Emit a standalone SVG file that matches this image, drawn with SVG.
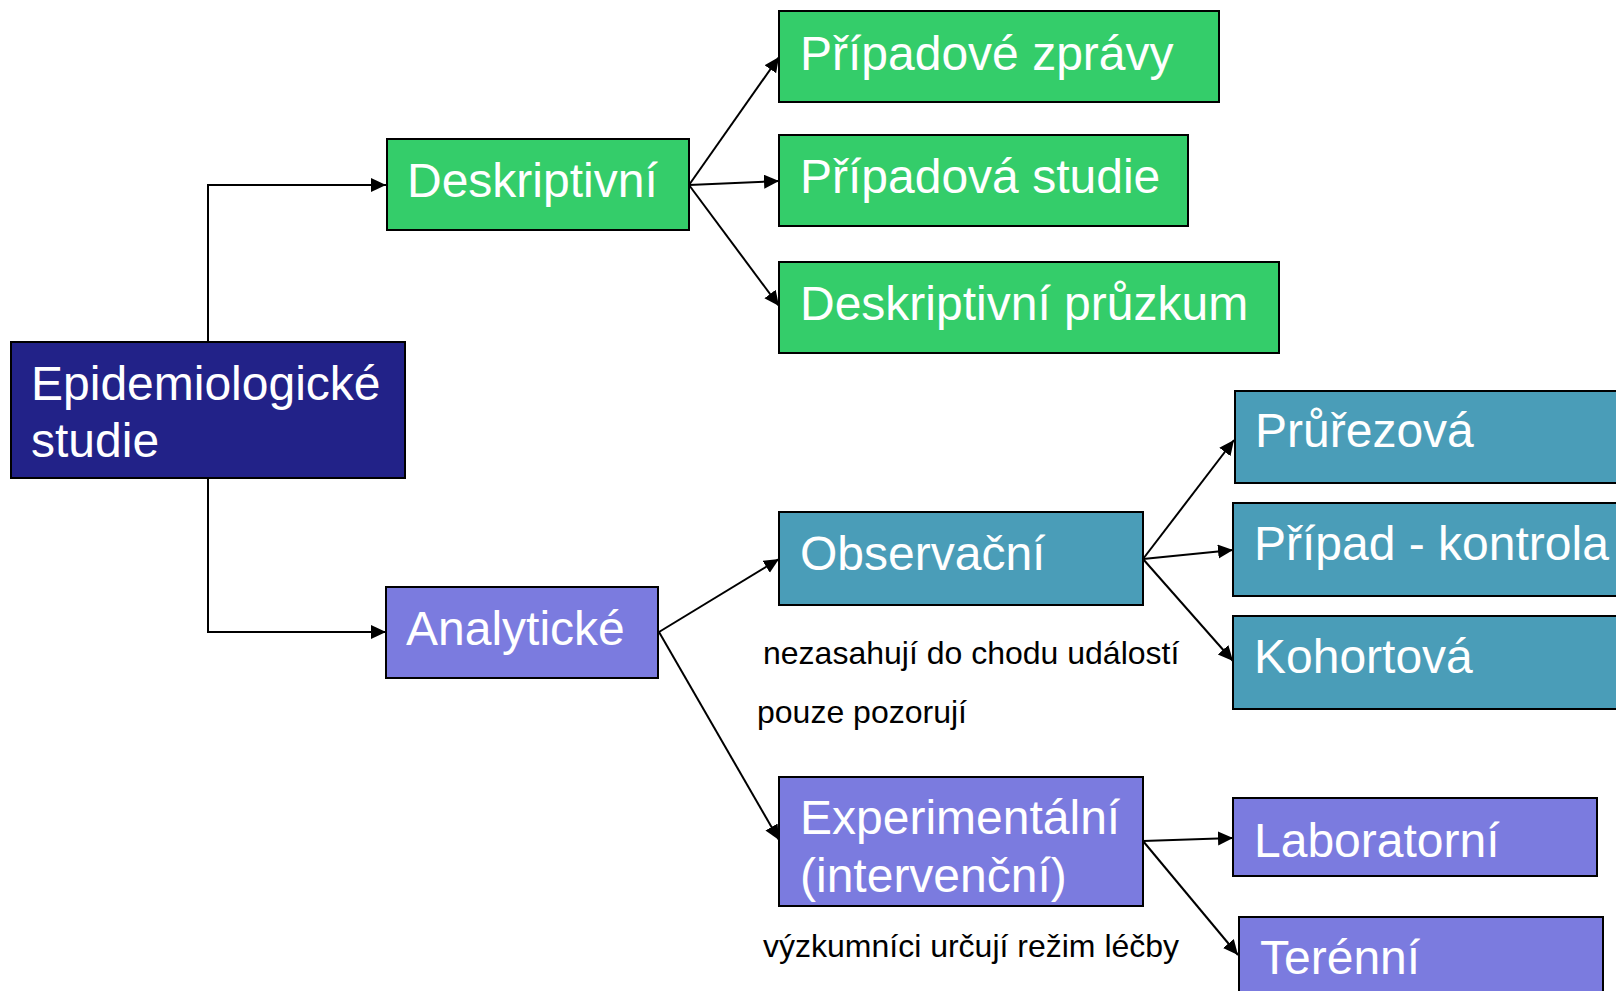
<svg xmlns="http://www.w3.org/2000/svg" width="1616" height="991" viewBox="0 0 1616 991">
<style>
.box{stroke:#000;stroke-width:2}
.green{fill:#34CD6A}
.navy{fill:#222288}
.teal{fill:#4A9DB8}
.purple{fill:#7B7BDF}
.t{font-family:"Liberation Sans",Arial,sans-serif;font-size:48px;fill:#fff}
.n{font-family:"Liberation Sans",Arial,sans-serif;font-size:32px;fill:#000}
.c{fill:none;stroke:#000;stroke-width:2}
</style>
<defs>
<marker id="ah" markerUnits="userSpaceOnUse" markerWidth="16" markerHeight="16" refX="15" refY="7" orient="auto">
<path d="M0,0 L15,7 L0,14 z" fill="#000"/>
</marker>
</defs>
<rect width="1616" height="991" fill="#fff"/>
<g id="connectors">
<path class="c" d="M208,342 V185 H386" marker-end="url(#ah)"/>
<path class="c" d="M208,478 V632 H386" marker-end="url(#ah)"/>
<path class="c" d="M689,185 L779,57" marker-end="url(#ah)"/>
<path class="c" d="M689,185 L779,181" marker-end="url(#ah)"/>
<path class="c" d="M689,185 L779,306" marker-end="url(#ah)"/>
<path class="c" d="M659,632 L779,559" marker-end="url(#ah)"/>
<path class="c" d="M659,632 L779,840" marker-end="url(#ah)"/>
<path class="c" d="M1143,559 L1234,440" marker-end="url(#ah)"/>
<path class="c" d="M1143,559 L1233,550" marker-end="url(#ah)"/>
<path class="c" d="M1143,559 L1233,661" marker-end="url(#ah)"/>
<path class="c" d="M1143,841 L1233,838" marker-end="url(#ah)"/>
<path class="c" d="M1143,841 L1238,955" marker-end="url(#ah)"/>
</g>
<g id="epi">
<rect class="box navy" x="11" y="342" width="394" height="136"/>
<text class="t" x="31" y="400">Epidemiologické</text>
<text class="t" x="31" y="457">studie</text>
</g>
<g id="deskriptivni">
<rect class="box green" x="387" y="139" width="302" height="91"/>
<text class="t" x="407" y="197">Deskriptivní</text>
</g>
<g id="analyticke">
<rect class="box purple" x="386" y="587" width="272" height="91"/>
<text class="t" x="406" y="645">Analytické</text>
</g>
<g id="pripadove-zpravy">
<rect class="box green" x="779" y="11" width="440" height="91"/>
<text class="t" x="800" y="70">Případové zprávy</text>
</g>
<g id="pripadova-studie">
<rect class="box green" x="779" y="135" width="409" height="91"/>
<text class="t" x="800" y="193">Případová studie</text>
</g>
<g id="deskriptivni-pruzkum">
<rect class="box green" x="779" y="262" width="500" height="91"/>
<text class="t" x="800" y="320">Deskriptivní průzkum</text>
</g>
<g id="observacni">
<rect class="box teal" x="779" y="512" width="364" height="93"/>
<text class="t" x="800" y="570">Observační</text>
</g>
<g id="experimentalni">
<rect class="box purple" x="779" y="777" width="364" height="129"/>
<text class="t" x="800" y="834">Experimentální</text>
<text class="t" x="800" y="892">(intervenční)</text>
</g>
<g id="prurezova">
<rect class="box teal" x="1235" y="391" width="400" height="92"/>
<text class="t" x="1255" y="447">Průřezová</text>
</g>
<g id="pripad-kontrola">
<rect class="box teal" x="1233" y="503" width="400" height="93"/>
<text class="t" x="1254" y="560">Případ - kontrola</text>
</g>
<g id="kohortova">
<rect class="box teal" x="1233" y="616" width="400" height="93"/>
<text class="t" x="1254" y="673">Kohortová</text>
</g>
<g id="laboratorni">
<rect class="box purple" x="1233" y="798" width="364" height="78"/>
<text class="t" x="1254" y="857">Laboratorní</text>
</g>
<g id="terenni">
<rect class="box purple" x="1239" y="917" width="364" height="90"/>
<text class="t" x="1260" y="974">Terénní</text>
</g>
<g id="notes">
<text class="n" x="763" y="664">nezasahují do chodu událostí</text>
<text class="n" x="757" y="723">pouze pozorují</text>
<text class="n" x="763" y="957">výzkumníci určují režim léčby</text>
</g>
</svg>
